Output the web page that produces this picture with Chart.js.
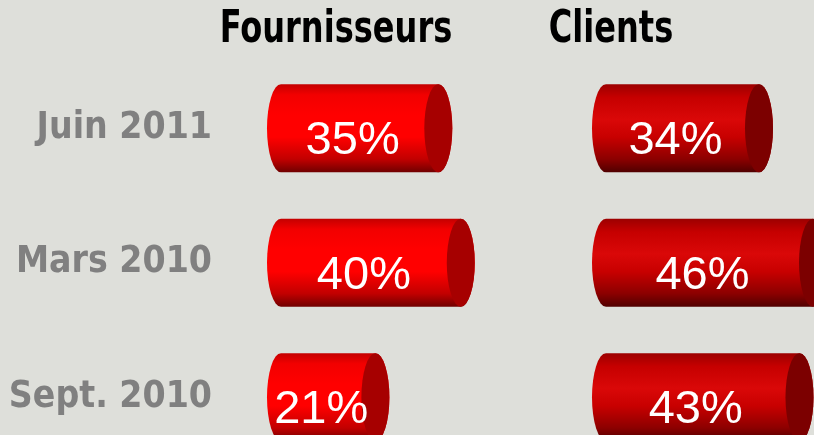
<!DOCTYPE html>
<html>
<head>
<meta charset="utf-8">
<script src="https://cdn.jsdelivr.net/npm/chart.js@4.4.1/dist/chart.umd.min.js"></script>
<style>
  html, body { margin: 0; padding: 0; background: #dedfda; overflow: hidden; }
  #wrap { position: relative; width: 814px; height: 435px; overflow: hidden; }
  canvas { position: absolute; top: 0; }
  #c1 { left: 0; }
  #c2 { left: 391px; }
</style>
</head>
<body>
<div id="wrap">
  <canvas id="c1" width="672" height="480"></canvas>
  <canvas id="c2" width="440" height="480"></canvas>
</div>
<script>
const periods = ['Juin 2011', 'Mars 2010', 'Sept. 2010'];
const fournisseurs = [35, 40, 21];
const clients = [34, 46, 43];

// draws each bar as a horizontal cylinder with its value inside
const cylinderPlugin = {
    id: 'cylinder',
    afterDatasetsDraw(chart, args, opts) {
        const ctx = chart.ctx;
        const rx = 14;
        chart.data.datasets.forEach((ds, i) => {
            const meta = chart.getDatasetMeta(i);
            meta.data.forEach((bar, j) => {
                const p = bar.getProps(['x', 'y', 'base', 'height'], true);
                const top = p.y - p.height / 2;
                const ry = p.height / 2;

                const grad = ctx.createLinearGradient(0, top, 0, top + p.height);
                opts.body.forEach(s => grad.addColorStop(s[0], s[1]));

                ctx.save();
                ctx.beginPath();
                ctx.ellipse(p.base, p.y, rx, ry, 0, Math.PI / 2, Math.PI * 1.5);
                ctx.lineTo(p.x, top);
                ctx.ellipse(p.x, p.y, rx, ry, 0, -Math.PI / 2, Math.PI / 2);
                ctx.closePath();
                ctx.fillStyle = grad;
                ctx.fill();

                ctx.beginPath();
                ctx.ellipse(p.x, p.y, rx, ry, 0, 0, Math.PI * 2);
                ctx.fillStyle = opts.cap;
                ctx.fill();

                ctx.fillStyle = '#ffffff';
                ctx.font = "47px 'Liberation Sans', Arial, sans-serif";
                ctx.textAlign = 'center';
                ctx.textBaseline = 'middle';
                ctx.fillText(ds.data[j] + '%', (p.base - rx + p.x) / 2, p.y + 13);
                ctx.restore();
            });
        });
    }
};

// big narrow header above each panel
const headerPlugin = {
    id: 'header',
    afterDraw(chart, args, opts) {
        const ctx = chart.ctx;
        ctx.save();
        ctx.translate(chart.width / 2, 31);
        ctx.scale(0.81, 1);
        ctx.fillStyle = '#000000';
        ctx.font = "bold 44px 'DejaVu Sans Condensed', 'DejaVu Sans', sans-serif";
        ctx.textAlign = 'center';
        ctx.textBaseline = 'middle';
        ctx.fillText(opts.text, 0, 0);
        ctx.restore();
    }
};

function noPad(s) {
    s.paddingTop = 0;
    s.paddingBottom = 0;
}

new Chart(document.getElementById('c1'), {
    type: 'bar',
    data: {
        labels: periods,
        datasets: [{
            label: 'Fournisseurs',
            data: fournisseurs,
            backgroundColor: 'transparent',
            barThickness: 88
        }]
    },
    options: {
        indexAxis: 'y',
        responsive: false,
        animation: false,
        layout: { padding: { top: 61, right: 0, bottom: 15.5, left: 0 } },
        scales: {
            x: { display: false, min: 0, max: 87 },
            y: {
                afterFit(s) { s.width = 281; noPad(s); },
                grid: { display: false, drawTicks: false },
                border: { display: false },
                ticks: {
                    padding: 69,
                    color: '#808080',
                    font: { family: "'DejaVu Sans Condensed', 'DejaVu Sans', sans-serif", weight: 'bold', size: 37 }
                }
            }
        },
        plugins: {
            legend: { display: false },
            tooltip: { enabled: false },
            header: { text: 'Fournisseurs' },
            cylinder: {
                body: [[0, '#c40000'], [0.12, '#f20000'], [0.35, '#ff0000'], [0.6, '#ff0000'], [0.85, '#c20000'], [1, '#700000']],
                cap: '#a60000'
            }
        }
    },
    plugins: [cylinderPlugin, headerPlugin]
});

new Chart(document.getElementById('c2'), {
    type: 'bar',
    data: {
        labels: periods,
        datasets: [{
            label: 'Clients',
            data: clients,
            backgroundColor: 'transparent',
            barThickness: 88
        }]
    },
    options: {
        indexAxis: 'y',
        responsive: false,
        animation: false,
        layout: { padding: { top: 61, right: 0, bottom: 15.5, left: 0 } },
        scales: {
            x: { display: false, min: 0, max: 50 },
            y: {
                afterFit(s) { s.width = 215; noPad(s); },
                grid: { display: false, drawTicks: false },
                border: { display: false },
                ticks: { display: false }
            }
        },
        plugins: {
            legend: { display: false },
            tooltip: { enabled: false },
            header: { text: 'Clients' },
            cylinder: {
                body: [[0, '#9c0000'], [0.15, '#c60000'], [0.4, '#da0808'], [0.6, '#c80000'], [0.85, '#8c0000'], [1, '#500000']],
                cap: '#7c0000'
            }
        }
    },
    plugins: [cylinderPlugin, headerPlugin]
});
</script>
</body>
</html>
